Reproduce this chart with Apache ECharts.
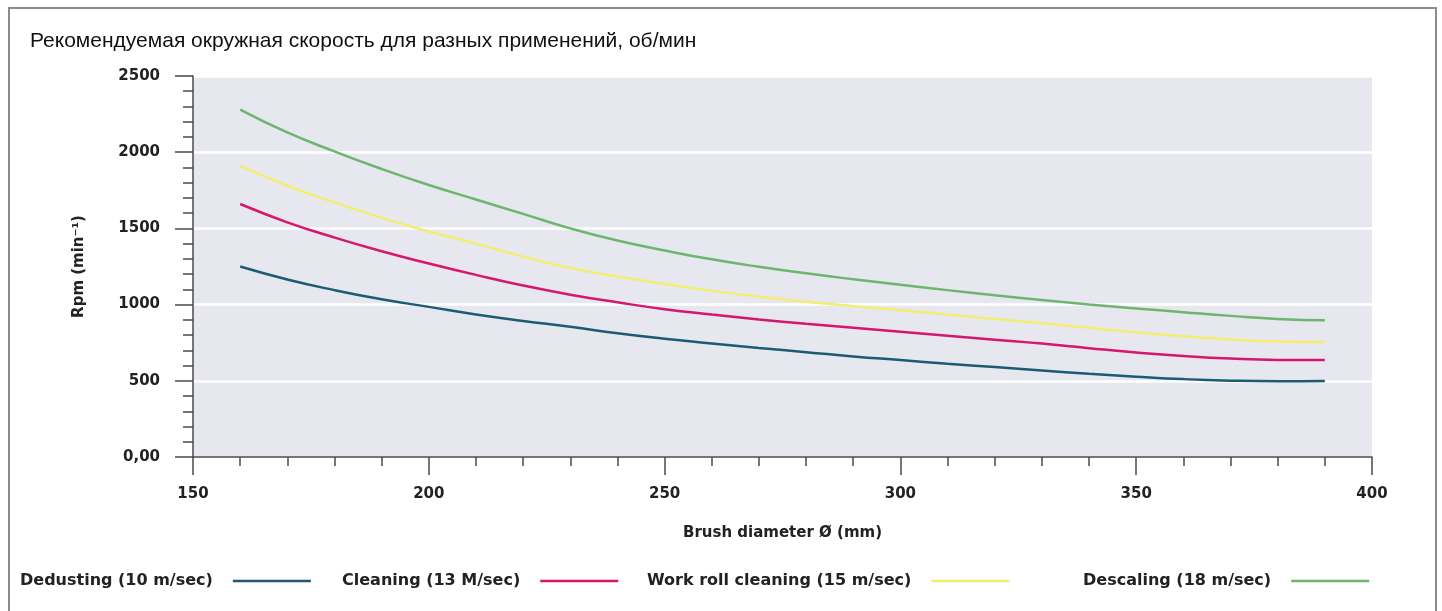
<!DOCTYPE html>
<html>
<head>
<meta charset="utf-8">
<script src="https://cdn.jsdelivr.net/npm/echarts@6/dist/echarts.min.js"></script>
<style>
html, body { margin: 0; padding: 0; background: #fff; }
#main { width: 1442px; height: 611px; }
</style>
</head>
<body>
<div id="main"></div>
<script>
// brush diameter, mm
var diameters = [160, 170, 180, 190, 200, 210, 220, 230, 240, 250, 260, 270,
                 280, 290, 300, 310, 320, 330, 340, 350, 360, 370, 380, 390];
// rpm
var dedusting = [1250, 1165, 1095, 1035, 985, 935, 893, 855, 812, 776, 745, 715,
                 688, 660, 636, 612, 590, 568, 546, 527, 511, 501, 497, 499];
var cleaning  = [1660, 1540, 1440, 1350, 1270, 1195, 1125, 1065, 1015, 970, 935, 903,
                 874, 848, 822, 796, 770, 744, 714, 686, 663, 646, 637, 636];
var workRoll  = [1910, 1780, 1670, 1570, 1480, 1400, 1315, 1240, 1185, 1135, 1090, 1052,
                 1018, 990, 963, 935, 906, 878, 848, 818, 792, 771, 758, 755];
var descaling = [2280, 2130, 2005, 1890, 1785, 1690, 1595, 1500, 1420, 1355, 1297, 1248,
                 1205, 1166, 1130, 1095, 1061, 1030, 1001, 975, 950, 926, 906, 897];

var seriesNames = ['Dedusting (10 m/sec)', 'Cleaning (13 M/sec)',
                   'Work roll cleaning (15 m/sec)', 'Descaling (18 m/sec)'];
var seriesData = [dedusting, cleaning, workRoll, descaling];
var colors = ['#1d5b74', '#d6166f', '#f2ee72', '#6db66d'];
var legendLeft = [20, 342, 647, 1083];

var boldFont = 'DejaVu Sans';
var axisColor = '#4a4a4a';

function pairs(ys) {
    var out = [];
    for (var i = 0; i < diameters.length; i++) {
        out.push([diameters[i], ys[i]]);
    }
    return out;
}

var chart = echarts.init(document.getElementById('main'));

var series = [];
var legends = [];
for (var k = 0; k < seriesNames.length; k++) {
    series.push({
        name: seriesNames[k],
        type: 'line',
        smooth: true,
        showSymbol: false,
        data: pairs(seriesData[k]),
        lineStyle: { width: 2.5, color: colors[k] },
        itemStyle: { color: colors[k] }
    });
    legends.push({
        data: [seriesNames[k]],
        left: legendLeft[k],
        top: 573,
        padding: 0,
        align: 'right',
        icon: 'rect',
        itemWidth: 78,
        itemHeight: 2.5,
        selectedMode: false,
        textStyle: {
            fontFamily: boldFont,
            fontWeight: 'bold',
            fontSize: 16,
            color: '#222',
            padding: [0, 15, 0, 0]
        }
    });
}

var option = {
    animation: false,
    backgroundColor: '#fff',
    color: colors,
    title: {
        text: 'Рекомендуемая окружная скорость для разных применений, об/мин',
        left: 30,
        top: 31,
        padding: 0,
        textStyle: {
            fontFamily: 'Liberation Sans',
            fontWeight: 'normal',
            fontSize: 21,
            color: '#111'
        }
    },
    legend: legends,
    graphic: [{
        type: 'rect',
        shape: { x: 9, y: 8, width: 1427, height: 700 },
        style: { fill: 'none', stroke: '#8c8c8c', lineWidth: 2 },
        silent: true,
        z: 100
    }],
    grid: {
        left: 193,
        right: 70,
        top: 76,
        bottom: 154,
        show: true,
        backgroundColor: '#e6e7ef',
        borderWidth: 0
    },
    xAxis: {
        type: 'value',
        min: 150,
        max: 400,
        interval: 50,
        name: 'Brush diameter Ø (mm)',
        nameLocation: 'middle',
        nameGap: 69,
        nameTextStyle: { fontFamily: boldFont, fontWeight: 'bold', fontSize: 15, color: '#222' },
        axisLine: { lineStyle: { color: axisColor, width: 1.5 } },
        axisTick: { show: true, length: 18, lineStyle: { color: axisColor, width: 1.5 } },
        minorTick: { show: true, splitNumber: 5, length: 9, lineStyle: { color: axisColor, width: 1.5 } },
        axisLabel: { margin: 30, fontFamily: boldFont, fontWeight: 'bold', fontSize: 15, color: '#222' },
        splitLine: { show: false }
    },
    yAxis: {
        type: 'value',
        min: 0,
        max: 2500,
        interval: 500,
        name: 'Rpm (min⁻¹)',
        nameLocation: 'middle',
        nameGap: 106,
        nameTextStyle: { fontFamily: boldFont, fontWeight: 'bold', fontSize: 15, color: '#222' },
        axisLine: { show: true, lineStyle: { color: axisColor, width: 1.5 } },
        axisTick: { show: true, length: 18, lineStyle: { color: axisColor, width: 1.5 } },
        minorTick: { show: true, splitNumber: 5, length: 10, lineStyle: { color: axisColor, width: 1.5 } },
        axisLabel: {
            margin: 33,
            fontFamily: boldFont,
            fontWeight: 'bold',
            fontSize: 15,
            color: '#222',
            formatter: function (v) { return v === 0 ? '0,00' : String(v); }
        },
        splitLine: { show: true, lineStyle: { color: '#ffffff', width: 2.5 } }
    },
    series: series
};

chart.setOption(option);
</script>
</body>
</html>
